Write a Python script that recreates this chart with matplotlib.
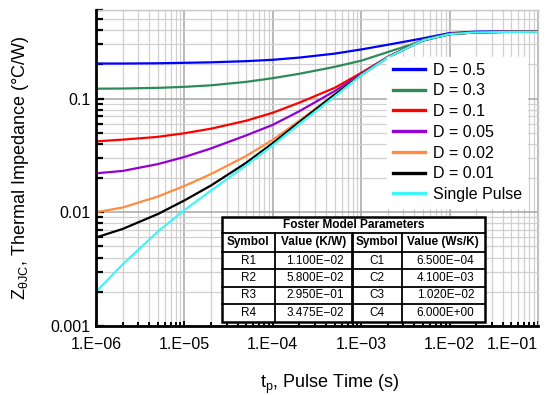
import matplotlib
matplotlib.use('Agg')
import matplotlib.pyplot as plt
from matplotlib.ticker import LogLocator, NullFormatter
from matplotlib.lines import Line2D
from matplotlib.patches import Rectangle
from matplotlib.transforms import Affine2D

plt.rcParams['font.family'] = ['Liberation Sans', 'DejaVu Sans']
plt.rcParams['mathtext.fontset'] = 'custom'
plt.rcParams['mathtext.rm'] = 'Liberation Sans'
plt.rcParams['mathtext.it'] = 'Liberation Sans:italic'

# ---------------- data ----------------
t = [1e-6, 2e-6, 5e-6, 1e-5, 2e-5, 5e-5, 1e-4, 2e-4, 5e-4,
     1e-3, 2e-3, 5e-3, 1e-2, 2e-2, 5e-2, 1e-1]

z_d05 = [0.203, 0.203, 0.204, 0.206, 0.208, 0.213, 0.219, 0.229, 0.248,
         0.270, 0.297, 0.338, 0.376, 0.387, 0.390, 0.390]
z_d03 = [0.122, 0.1224, 0.1241, 0.1266, 0.1306, 0.140, 0.151, 0.165, 0.1897,
         0.215, 0.256, 0.322, 0.368, 0.383, 0.387, 0.388]
z_d01 = [0.042, 0.0435, 0.046, 0.0495, 0.0543, 0.0638, 0.075, 0.092, 0.124,
         0.168, 0.232, 0.326, 0.369, 0.382, 0.386, 0.387]
z_d005 = [0.022, 0.02307, 0.0265, 0.0306, 0.0364, 0.0474, 0.0587, 0.0774, 0.116,
          0.1637, 0.2315, 0.326, 0.369, 0.382, 0.386, 0.387]
z_d002 = [0.0100, 0.01101, 0.01374, 0.01703, 0.02168, 0.03126, 0.04335, 0.0639, 0.109,
          0.161, 0.231, 0.3258, 0.3688, 0.3818, 0.3858, 0.3868]
z_d001 = [0.0060, 0.00713, 0.00964, 0.0127, 0.0172, 0.0272, 0.0405, 0.0622, 0.108,
          0.161, 0.2305, 0.3255, 0.3685, 0.3815, 0.3855, 0.3865]
z_single = [0.0020, 0.00348, 0.00675, 0.01045, 0.0155, 0.0259, 0.0388, 0.0597, 0.104,
            0.160, 0.2296, 0.325, 0.368, 0.381, 0.385, 0.386]

series_labels = ["D = 0.5", "D = 0.3", "D = 0.1", "D = 0.05", "D = 0.02",
                 "D = 0.01", "Single Pulse"]
series_values = [z_d05, z_d03, z_d01, z_d005, z_d002, z_d001, z_single]
series_colors = ["#0000ff", "#2e8b57", "#ff0000", "#9400d3", "#ff8c40",
                 "#000000", "#40f5f5"]

xtick_values = [1e-6, 1e-5, 1e-4, 1e-3, 1e-2, 1e-1]
xtick_labels = ["1.E\u221206", "1.E\u221205", "1.E\u221204", "1.E\u221203",
                "1.E\u221202", "1.E\u221201"]
ytick_values = [1e-3, 1e-2, 1e-1]
ytick_labels = ["0.001", "0.01", "0.1"]

table_title = "Foster Model Parameters"
table_header = ["Symbol", "Value (K/W)", "Symbol", "Value (Ws/K)"]
r_symbols = ["R1", "R2", "R3", "R4"]
r_values = ["1.100E\u221202", "5.800E\u221202", "2.950E\u221201", "3.475E\u221202"]
c_symbols = ["C1", "C2", "C3", "C4"]
c_values = ["6.500E\u221204", "4.100E\u221203", "1.020E\u221202", "6.000E+00"]

# ---------------- figure ----------------
W, H = 545, 395
fig = plt.figure(figsize=(W / 100, H / 100), dpi=100)
ax = fig.add_axes([96 / W, 1 - 326 / H, (538 - 96) / W, (326 - 10) / H])

for lab, vals, col in zip(series_labels, series_values, series_colors):
    ax.plot(t, vals, color=col, lw=1.6, label=lab, zorder=3,
            solid_joinstyle='round')

ax.set_xscale('log')
ax.set_yscale('log')
ax.set_xlim(1e-6, 1e-1)
ax.set_ylim(1e-3, 0.6)

ax.set_xticks(xtick_values)
ax.set_xticklabels(xtick_labels)
ax.set_yticks(ytick_values)
ax.set_yticklabels(ytick_labels)
for a in (ax.xaxis, ax.yaxis):
    a.set_minor_locator(LogLocator(base=10, subs=range(2, 10), numticks=20))
    a.set_minor_formatter(NullFormatter())
ax.get_xticklabels()[-1].set_horizontalalignment('right')

ax.tick_params(axis='both', which='both', direction='in', top=False, right=False,
               labelsize=11.5, colors='black')
ax.tick_params(axis='y', which='major', length=6, width=1.6, pad=4)
ax.tick_params(axis='y', which='minor', length=5, width=1.6)
ax.tick_params(axis='x', which='major', length=3.5, width=1.4, pad=8)
ax.tick_params(axis='x', which='minor', length=3, width=1.4)

ax.set_axisbelow(True)
ax.grid(True, which='major', color='#a6a6a6', lw=1.1, zorder=0)
ax.grid(True, which='minor', color='#d0d0d0', lw=0.9, zorder=0)

for s in ('left', 'bottom'):
    ax.spines[s].set_linewidth(2.0)
    ax.spines[s].set_color('black')
    ax.spines[s].set_zorder(6)
for s in ('top', 'right'):
    ax.spines[s].set_linewidth(1.0)
    ax.spines[s].set_color('#c8c8c8')

ax.set_ylabel(r'Z$_{\mathrm{θJC}}$, Thermal Impedance (°C/W)', fontsize=13)
ax.yaxis.set_label_coords((31 - 96) / 442, 0.5)
ax.set_xlabel(r't$_{\mathrm{p}}$, Pulse Time (s)', fontsize=13)
ax.xaxis.set_label_coords((330 - 96) / 442, (326 - 373) / 316)

handles = [Line2D([0], [0], color=c, lw=2.4) for c in series_colors]
leg = ax.legend(handles, series_labels, loc='upper left',
                bbox_to_anchor=((387 - 96) / 442, (326 - 57) / 316),
                frameon=True, fancybox=False, edgecolor='white', facecolor='white',
                framealpha=1, fontsize=11.5, handlelength=2.0, handletextpad=0.5,
                labelspacing=0.36, borderpad=0.35, borderaxespad=0)
leg.set_zorder(7)

# ---------------- table (drawn in pixel coordinates) ----------------
trans = Affine2D().scale(1 / W, -1 / H).translate(0, 1) + fig.transFigure
xe = [221.7, 275, 351.7, 401.7, 485]
ye = [217, 233.3, 251.7, 269.3, 286.7, 304, 322]

ax.add_patch(Rectangle((xe[0], ye[0]), xe[-1] - xe[0], ye[-1] - ye[0],
                       transform=trans, facecolor='white', edgecolor='black',
                       lw=1.8, zorder=8, clip_on=False))
for y in ye[1:-1]:
    ax.add_line(Line2D([xe[0], xe[-1]], [y, y], transform=trans, color='black',
                       lw=1.3, zorder=9, clip_on=False))
for i, x in enumerate(xe[1:-1]):
    ax.add_line(Line2D([x, x], [ye[1], ye[-1]], transform=trans, color='black',
                       lw=2.0 if i == 1 else 1.3, zorder=9, clip_on=False))

def tcell(x, y, s, bold=False, size=8.5):
    ax.text(x, y, s, transform=trans, ha='center', va='center', fontsize=size,
            fontweight='bold' if bold else 'normal', zorder=10, clip_on=False)

tcell((xe[0] + xe[-1]) / 2, (ye[0] + ye[1]) / 2, table_title, bold=True, size=8.6)
for j, h in enumerate(table_header):
    tcell((xe[j] + xe[j + 1]) / 2, (ye[1] + ye[2]) / 2, h, bold=True)
for i in range(4):
    yc = (ye[i + 2] + ye[i + 3]) / 2
    row = [r_symbols[i], r_values[i], c_symbols[i], c_values[i]]
    for j, s in enumerate(row):
        tcell((xe[j] + xe[j + 1]) / 2 + (2 if j % 2 else 0), yc, s)

fig.savefig('out.png', dpi=100)
